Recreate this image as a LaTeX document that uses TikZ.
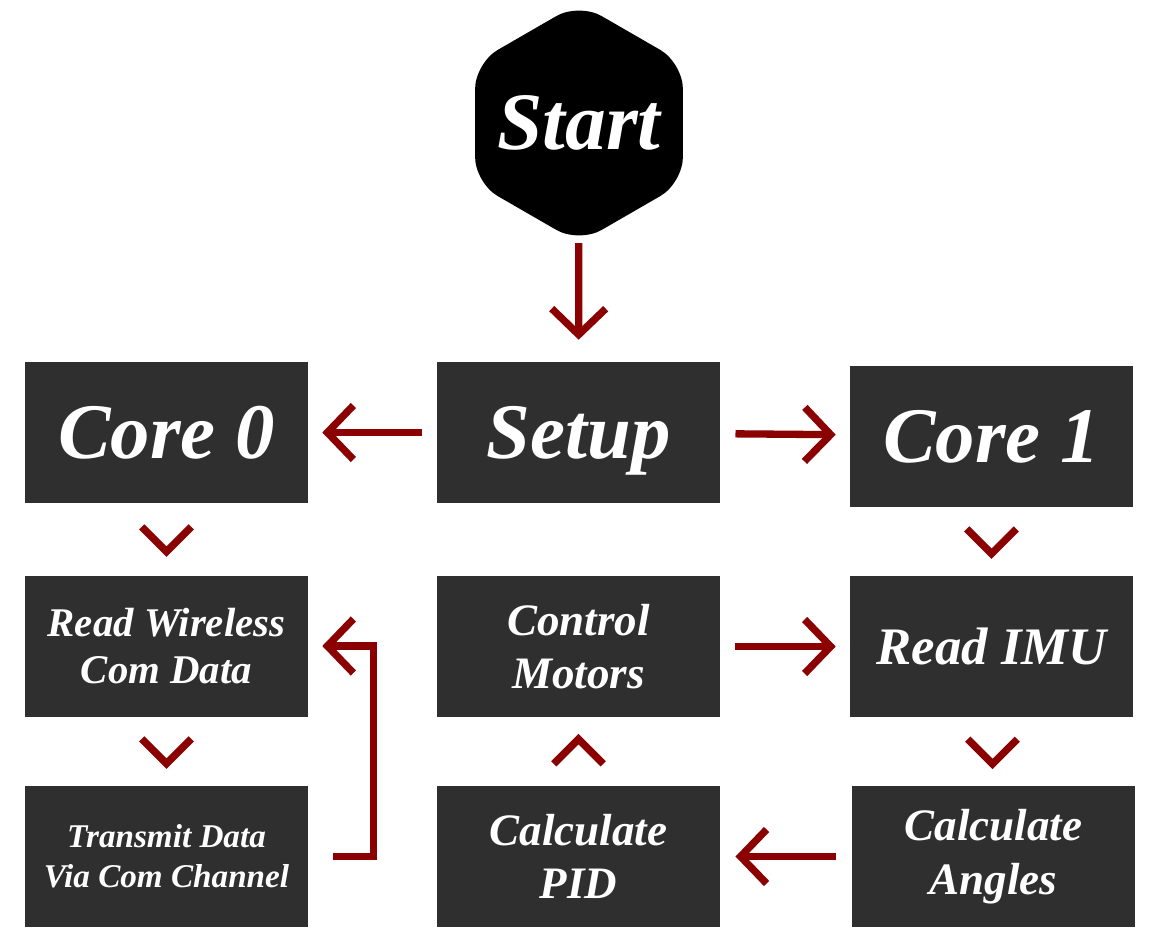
\documentclass[tikz,border=0pt]{standalone}
\usepackage{fontspec}
\setmainfont{Liberation Serif}
\usetikzlibrary{calc,arrows.meta,shapes.geometric}
\definecolor{boxgray}{RGB}{47,47,47}
\definecolor{darkred}{RGB}{139,0,0}
\tikzset{
  box/.style={fill=boxgray,text=white,align=center,inner sep=0pt,
              minimum width=7.075cm,minimum height=3.525cm},
  arr/.style={-{Straight Barb[length=0.65cm,width=1.35cm,sharp]},line width=5.2pt,
              line join=miter,darkred},
  chev/.style={line width=5.2pt,line join=miter,darkred}
}

\begin{document}
\begin{tikzpicture}[big/.style={box,text height=1.3cm,text depth=0pt,
                      font=\fontsize{56}{60}\selectfont\bfseries\itshape},
                    mid/.style={box,font=\fontsize{32}{38}\selectfont\bfseries\itshape}]
  \useasboundingbox (0,0) rectangle (28.9,-23.65);
  \node[regular polygon,regular polygon sides=6,shape border rotate=30,fill=black,
        text=white,minimum size=6cm,inner sep=0pt,rounded corners=0.65cm,
        font=\fontsize{58}{60}\selectfont\bfseries\itshape] (start) at (14.475,-3.075) {\makebox[0pt]{Start}};
  \node[big] (c0) at (4.1625,-10.8125)   {Core 0};
  \node[big] (su) at (14.4625,-10.8125)  {Setup};
  \node[big] (c1) at (24.7875,-10.9)     {Core 1};
  \node[box,font=\fontsize{29}{33}\selectfont\bfseries\itshape] (rw) at (4.1625,-16.15) {Read Wireless\\Com Data};
  \node[mid] (cm) at (14.4625,-16.1625)  {Control\\Motors};
  \node[box,font=\fontsize{37.5}{40}\selectfont\bfseries\itshape] (imu) at (24.7875,-16.1625) {Read IMU};
  \node[box,font=\fontsize{23.6}{28.5}\selectfont\bfseries\itshape] (tx) at (4.1625,-21.4125) {Transmit Data\\Via Com Channel};
  \node[mid] (pid) at (14.4625,-21.4125) {Calculate\\PID};
  \node[mid] (ang) at (24.8375,-21.4125) {Calculate\\Angles};
  % arrows
  \draw[arr,shorten >=0.55cm] (start) -- (su);
  \draw[arr,shorten <=0.38cm,shorten >=0.35cm] (su) -- (c0);
  \draw[arr,shorten <=0.38cm,shorten >=0.35cm] (su) -- (c1);
  \draw[arr,shorten <=0.38cm,shorten >=0.35cm] (cm) -- (imu);
  \draw[arr,shorten <=0.4cm,shorten >=0.38cm] (ang) -- (pid);
  \draw[arr,shorten <=0.625cm,shorten >=0.35cm] (tx.east) -- ++(1.625,0) |- (rw.east);
  % chevrons
  \draw[chev] ($(c0.south)!.5!(rw.north)+(-0.62,0.31)$) -- ++(0.62,-0.62) -- ++(0.62,0.62);
  \draw[chev] ($(c1.south)!.5!(imu.north)+(-0.62,0.31)$) -- ++(0.62,-0.62) -- ++(0.62,0.62);
  \draw[chev] ($(rw.south)!.5!(tx.north)+(-0.62,0.31)$) -- ++(0.62,-0.62) -- ++(0.62,0.62);
  \draw[chev] ($(imu.south)!.5!(ang.north)+(-0.62,0.31)$) -- ++(0.62,-0.62) -- ++(0.62,0.62);
  \draw[chev] ($(pid.north)!.5!(cm.south)+(-0.62,-0.31)$) -- ++(0.62,0.62) -- ++(0.62,-0.62);
\end{tikzpicture}
\end{document}
